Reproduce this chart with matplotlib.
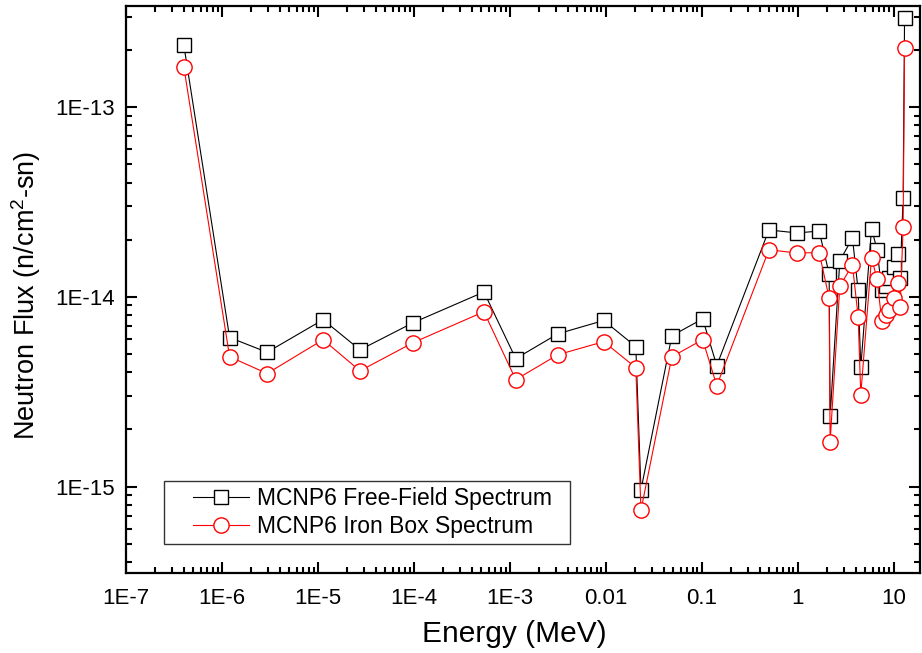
import matplotlib
matplotlib.use("Agg")
import matplotlib.pyplot as plt
from matplotlib.ticker import FixedLocator, FixedFormatter, LogLocator, NullFormatter
from matplotlib.legend_handler import HandlerLine2D

plt.rcParams['font.family'] = ['Liberation Sans', 'DejaVu Sans']
plt.rcParams['mathtext.fontset'] = 'custom'
plt.rcParams['mathtext.rm'] = 'Liberation Sans'

# Energy bins (MeV)
energy = [4.0e-7, 1.2e-6, 2.95e-6, 1.13e-5, 2.74e-5, 9.8e-5, 5.36e-4, 1.15e-3,
          3.16e-3, 9.5e-3, 2.05e-2, 2.32e-2, 4.87e-2, 0.102, 0.143, 0.5, 0.98,
          1.67, 2.12, 2.17, 2.74, 3.71, 4.25, 4.53, 5.86, 6.70, 7.50, 8.35,
          8.98, 10.07, 11.09, 11.64, 12.51, 12.95]

free_field = [2.12e-13, 6.1e-15, 5.1e-15, 7.57e-15, 5.25e-15, 7.3e-15, 1.06e-14,
              4.72e-15, 6.38e-15, 7.5e-15, 5.46e-15, 9.6e-16, 6.23e-15, 7.65e-15,
              4.34e-15, 2.25e-14, 2.17e-14, 2.22e-14, 1.32e-14, 2.34e-15, 1.55e-14,
              2.04e-14, 1.08e-14, 4.25e-15, 2.29e-14, 1.77e-14, 1.08e-14, 1.14e-14,
              1.25e-14, 1.44e-14, 1.68e-14, 1.26e-14, 3.33e-14, 2.96e-13]

iron_box = [1.63e-13, 4.83e-15, 3.94e-15, 5.94e-15, 4.07e-15, 5.73e-15, 8.34e-15,
            3.66e-15, 4.95e-15, 5.8e-15, 4.23e-15, 7.5e-16, 4.83e-15, 5.94e-15,
            3.4e-15, 1.77e-14, 1.7e-14, 1.71e-14, 9.84e-15, 1.72e-15, 1.14e-14,
            1.47e-14, 7.85e-15, 3.05e-15, 1.6e-14, 1.24e-14, 7.41e-15, 8.04e-15,
            8.55e-15, 9.91e-15, 1.18e-14, 8.79e-15, 2.32e-14, 2.04e-13]

x_ticks = [1e-7, 1e-6, 1e-5, 1e-4, 1e-3, 1e-2, 1e-1, 1, 10]
x_tick_labels = ['1E-7', '1E-6', '1E-5', '1E-4', '1E-3', '0.01', '0.1', '1', '10']
y_ticks = [1e-15, 1e-14, 1e-13]
y_tick_labels = ['1E-15', '1E-14', '1E-13']

fig = plt.figure(figsize=(9.22, 6.53), dpi=100)
ax = fig.add_axes([0.1367, 0.1225, 0.861, 0.868])

ax.plot(energy, free_field, color='black', lw=0.8, marker='s', ms=10,
        mfc='white', mec='black', mew=1.0, label='MCNP6 Free-Field Spectrum  ')
ax.plot(energy, iron_box, color='red', lw=0.8, marker='o', ms=11,
        mfc='white', mec='red', mew=1.0, label='MCNP6 Iron Box Spectrum')

ax.set_xscale('log')
ax.set_yscale('log')
ax.set_xlim(1e-7, 18.7)
ax.set_ylim(3.5e-16, 3.4e-13)

ax.xaxis.set_major_locator(FixedLocator(x_ticks))
ax.xaxis.set_major_formatter(FixedFormatter(x_tick_labels))
ax.yaxis.set_major_locator(FixedLocator(y_ticks))
ax.yaxis.set_major_formatter(FixedFormatter(y_tick_labels))
for axis in (ax.xaxis, ax.yaxis):
    axis.set_minor_locator(LogLocator(base=10, subs=range(2, 10), numticks=20))
    axis.set_minor_formatter(NullFormatter())

ax.tick_params(which='both', direction='in', top=True, right=True, width=1.5,
               labelsize=16)
ax.tick_params(axis='x', pad=11)
ax.tick_params(axis='y', pad=8)
ax.tick_params(which='major', length=8)
ax.tick_params(which='minor', length=4)
for s in ax.spines.values():
    s.set_linewidth(1.6)

ax.set_xlabel('Energy (MeV)', fontsize=21.5, labelpad=8, x=0.489)
ax.set_ylabel(r'Neutron Flux (n/cm$^2$-sn)', fontsize=19.5, labelpad=9, y=0.49)

hmap = {ln: HandlerLine2D(xpad=1.0) for ln in ax.get_lines()}
leg = ax.legend(loc='lower left', bbox_to_anchor=(0.048, 0.051), borderaxespad=0,
                fontsize=16.5, frameon=True, fancybox=False, handlelength=3.45,
                borderpad=0.25, labelspacing=0.25, handletextpad=0.35,
                handler_map=hmap)
leg.get_frame().set_edgecolor('black')
leg.get_frame().set_linewidth(1.0)

fig.savefig('out.png', dpi=100)
